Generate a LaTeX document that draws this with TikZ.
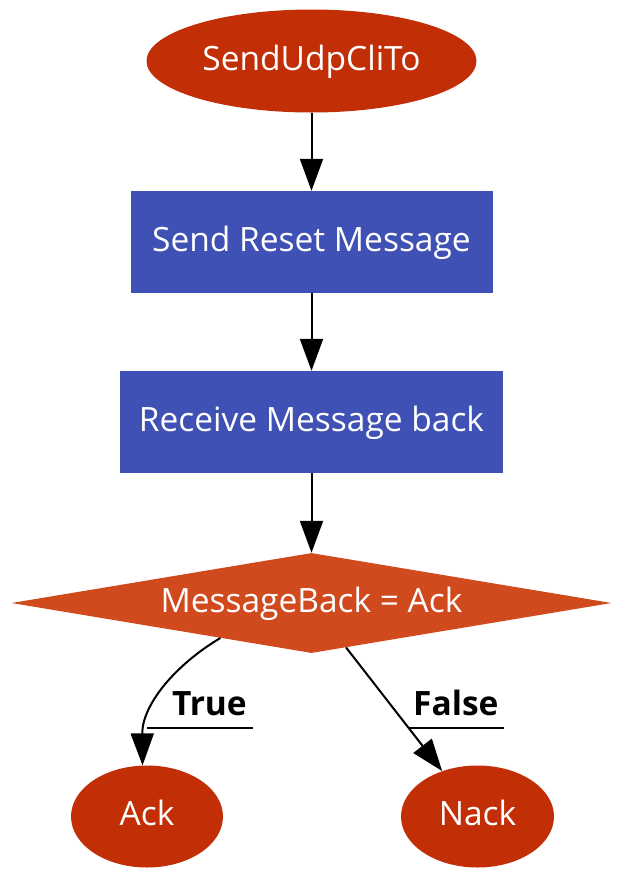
\documentclass[tikz,border=0pt]{standalone}
\usepackage{fontspec}
\setmainfont{Open Sans}
\usetikzlibrary{positioning,shapes.geometric,arrows.meta}
\definecolor{termred}{HTML}{C22F07}
\definecolor{stepblue}{HTML}{3F51B5}
\definecolor{testorange}{HTML}{D14A1E}
\newcommand{\nodefont}{\fontsize{33.5}{38}\selectfont}
\newcommand{\lblfont}{\fontsize{33.5}{38}\selectfont\bfseries}
\tikzset{term/.style={ellipse,fill=termred,draw=none,text=white,font=\nodefont,
                      inner sep=0pt,text height=18pt,text depth=0pt},
         stepbox/.style={rectangle,fill=stepblue,draw=none,text=white,font=\nodefont,
                      inner sep=0pt,text height=18pt,text depth=0pt},
         test/.style={diamond,aspect=6,fill=testorange,draw=none,text=white,font=\nodefont,
                      inner sep=0pt,text height=18pt,text depth=0pt},
         flow/.style={-{Triangle[length=32pt,width=23pt]},line width=2pt},
         deco/.style={line width=2pt},
         lbl/.style={font=\lblfont,inner sep=0pt}
}

\begin{document}
\begin{tikzpicture}[x=1pt,y=-1pt]
    \useasboundingbox (0,0) rectangle (636,892);
            %          start
            %          reset
            %          recv
            %          check
            %    ack           nack
        \node[term, minimum width=330pt, minimum height=103pt] (start) at (311.5,61) {SendUdpCliTo};
        \node[stepbox, minimum width=362pt, minimum height=102pt] (reset) at (311.5,242) {Send Reset Message};
        \node[stepbox, minimum width=383pt, minimum height=102pt] (recv) at (311.5,422) {Receive Message back};
        \node[test, minimum width=600pt, minimum height=100pt] (check) at (311.5,603) {MessageBack = Ack};
        \node[term, minimum width=152pt, minimum height=102pt] (ack) at (147,816.5) {Ack};
        \node[term, minimum width=153pt, minimum height=102pt] (nack) at (477.5,816.5) {Nack};
        \path[flow] (start) edge (reset)
              (reset) edge (recv)
              (recv) edge (check);
        % True branch
        \draw[flow] (check.201) .. controls (175,665) and (142,705) .. (ack.95)
              coordinate[pos=0.78] (tmid);
        \node[lbl, anchor=base west] (tlab) at ([shift={(25,-13)}]tmid) {True};
        \draw[deco] (tmid) -- (tmid -| tlab.east) -- ++(6,0);
        % False branch
        \draw[flow] (check) -- (nack) coordinate[pos=0.655] (fmid);
        \node[lbl, anchor=base west] (flab) at ([shift={(4,-13)}]fmid) {False};
        \draw[deco] (fmid) -- (fmid -| flab.east) -- ++(5,0);
\end{tikzpicture}
\end{document}
